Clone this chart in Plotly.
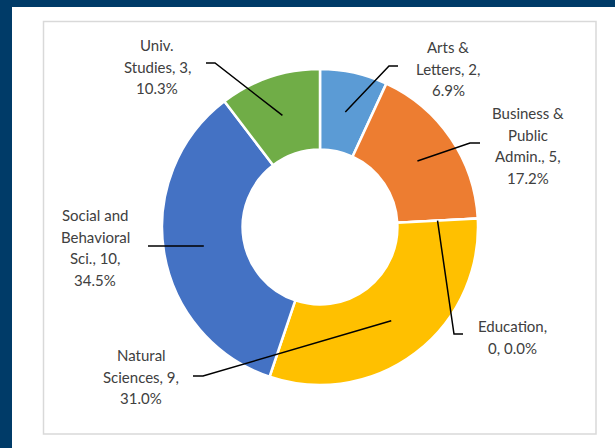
import math
import plotly.graph_objects as go

# ---- data ----
categories = ["Arts & Letters", "Business & Public Admin.", "Education",
              "Natural Sciences", "Social and Behavioral Sci.", "Univ. Studies"]
counts = [2, 5, 0, 9, 10, 3]
label_templates = [
    "Arts &|Letters, {v},|{p}",
    "Business &|Public|Admin., {v},|{p}",
    "Education,|{v}, {p}",
    "Natural|Sciences, {v},|{p}",
    "Social and|Behavioral|Sci., {v},|{p}",
    "Univ.|Studies, {v},|{p}",
]
colors = ["#5B9BD5", "#ED7D31", "#A5A5A5", "#FFC000", "#4472C4", "#70AD47"]

# ---- layout / styling (pixels) ----
W, H = 615, 448
CX, CY, R = 320, 227, 158
HOLE = 0.49
# label block: centre x, first-line y
label_pos = [(448, 47), (528, 113), (512, 326), (141, 355), (95, 215), (157, 45)]
LINE_GAP = 21.5
# leader-line outer points (text end, elbow)
leader_outer = [
    [(398, 66), (389, 66)],
    [(480, 143), (470, 143)],
    [(463, 334), (454, 334)],
    [(193, 376), (203, 376)],
    [(148, 246)],
    [(206, 63), (215, 63)],
]
FONT = "Lato"
TEXT_COLOR = "#404040"


def px(x):
    return x / W


def py(y):
    return 1 - y / H


total = sum(counts)
fig = go.Figure()
fig.add_trace(go.Pie(
    labels=categories, values=counts, sort=False, direction="clockwise",
    rotation=0, hole=HOLE, textinfo="none", hoverinfo="label+value+percent",
    marker=dict(colors=colors, line=dict(color="white", width=2.5)),
    domain=dict(x=[px(CX - R), px(CX + R)], y=[py(CY + R), py(CY - R)]),
    showlegend=False,
))

shapes = [
    dict(type="rect", xref="paper", yref="paper", x0=0, x1=px(12), y0=0, y1=1,
         fillcolor="#003B68", line=dict(width=0), layer="below"),
    dict(type="rect", xref="paper", yref="paper", x0=0, x1=1, y0=py(7), y1=1,
         fillcolor="#003B68", line=dict(width=0), layer="below"),
    dict(type="rect", xref="paper", yref="paper", x0=px(43.5), x1=px(596),
         y0=py(434), y1=py(21.5), fillcolor="rgba(0,0,0,0)",
         line=dict(color="#D9D9D9", width=1.5), layer="below"),
]
annotations = []
cum = 0
r_mid = R * (1 + HOLE) / 2
for i, (cat, v) in enumerate(zip(categories, counts)):
    frac = v / total
    mid = (cum + frac / 2) * 2 * math.pi
    cum += frac
    ax = CX + r_mid * math.sin(mid)
    ay = CY - r_mid * math.cos(mid)
    pts = leader_outer[i] + [(ax, ay)]
    path = "M " + " L ".join(f"{px(x)},{py(y)}" for x, y in pts)
    shapes.append(dict(type="path", xref="paper", yref="paper", path=path,
                       line=dict(color="black", width=1.5)))
    text = label_templates[i].format(v=v, p=f"{frac * 100:.1f}%")
    lx, ly = label_pos[i]
    for j, line in enumerate(text.split("|")):
        annotations.append(dict(
            x=px(lx), y=py(ly + j * LINE_GAP), xref="paper", yref="paper",
            text=line, showarrow=False, xanchor="center", yanchor="middle",
            font=dict(family=FONT, size=15, color=TEXT_COLOR)))

fig.update_layout(
    width=W, height=H, margin=dict(l=0, r=0, t=0, b=0),
    paper_bgcolor="white", plot_bgcolor="white",
    shapes=shapes, annotations=annotations,
)
fig.write_html("out.html", config={"displayModeBar": False},
               post_script="document.body.style.margin='0';"
                           "document.body.style.overflow='hidden';")
